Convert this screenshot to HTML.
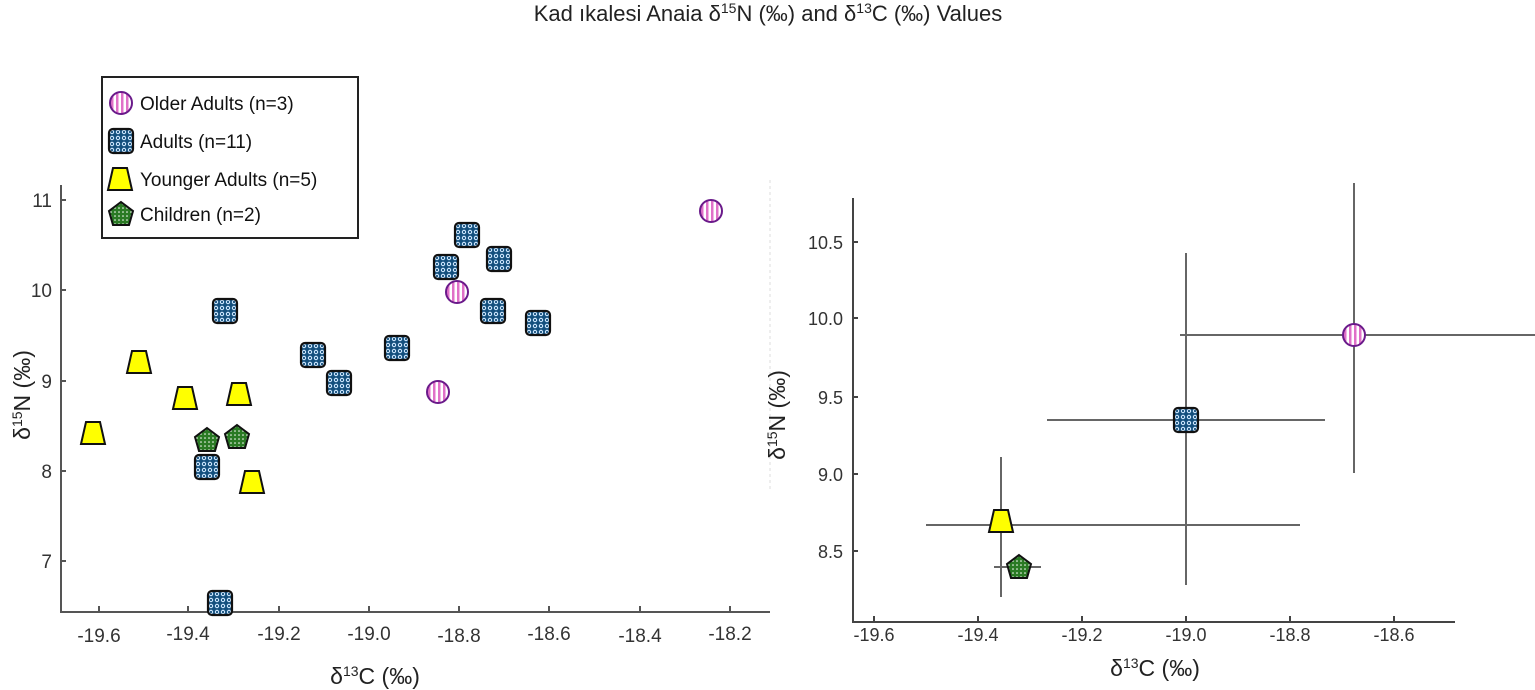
<!DOCTYPE html>
<html><head><meta charset="utf-8"><style>
html,body{margin:0;padding:0;background:#fff;}
svg{display:block;font-family:"Liberation Sans",sans-serif;}
</style></head><body>
<svg width="1535" height="690" viewBox="0 0 1535 690" xmlns="http://www.w3.org/2000/svg">
<defs>
<pattern id="str" width="5" height="5" patternUnits="userSpaceOnUse"><rect width="5" height="5" fill="#fff"/><rect width="2.5" height="5" fill="#e070c8"/></pattern>
<pattern id="blu" width="6" height="6" patternUnits="userSpaceOnUse"><rect width="6" height="6" fill="#14507e"/><circle cx="3" cy="3" r="2.2" fill="#cfe8ff"/><circle cx="3" cy="3" r="1.1" fill="#14507e"/></pattern>
<pattern id="grn" width="4" height="4" patternUnits="userSpaceOnUse"><rect width="4" height="4" fill="#2a7a24"/><circle cx="2" cy="2" r="0.8" fill="#fff"/></pattern>
<g id="mo"><circle r="11" fill="url(#str)" stroke="#6a1a8a" stroke-width="2"/></g>
<g id="ma"><rect x="-12" y="-12" width="24" height="24" rx="4" fill="url(#blu)" stroke="#111" stroke-width="2.2"/></g>
<g id="my"><polygon points="-7,-11 7,-11 12,11 -12,11" fill="#ffff00" stroke="#111" stroke-width="2"/></g>
<g id="mc"><polygon points="0,-12 12,-3 8,11 -8,11 -12,-3" fill="url(#grn)" stroke="#111" stroke-width="2"/></g>
</defs>
<text x="768" y="21" font-size="22" text-anchor="middle" fill="#222">Kad ıkalesi   Anaia  δ<tspan baseline-shift="super" font-size="14">15</tspan>N (‰) and  δ<tspan baseline-shift="super" font-size="14">13</tspan>C (‰) Values</text>

<!-- left plot -->
<g stroke="#555" stroke-width="2" fill="none">
<line x1="61" y1="185" x2="61" y2="613"/><line x1="60" y1="612" x2="770" y2="612"/>
<line x1="61" y1="200" x2="66" y2="200"/><line x1="61" y1="290" x2="66" y2="290"/><line x1="61" y1="381" x2="66" y2="381"/><line x1="61" y1="471" x2="66" y2="471"/><line x1="61" y1="561" x2="66" y2="561"/>
<line x1="99" y1="612" x2="99" y2="606"/><line x1="188" y1="612" x2="188" y2="606"/><line x1="279" y1="612" x2="279" y2="606"/><line x1="369" y1="612" x2="369" y2="606"/><line x1="459" y1="612" x2="459" y2="606"/><line x1="549" y1="612" x2="549" y2="606"/><line x1="640" y1="612" x2="640" y2="606"/><line x1="730" y1="612" x2="730" y2="606"/>
</g>
<line x1="770" y1="180" x2="770" y2="490" stroke="#ddd" stroke-dasharray="3,3"/>
<g font-size="19" fill="#333" text-anchor="end">
<text x="52" y="207">11</text><text x="52" y="297">10</text><text x="52" y="388">9</text><text x="52" y="478">8</text><text x="52" y="568">7</text>
</g>
<g font-size="19" fill="#333" text-anchor="middle">
<text x="99" y="642">-19.6</text><text x="188" y="640">-19.4</text><text x="279" y="640">-19.2</text><text x="369" y="640">-19.0</text><text x="459" y="642">-18.8</text><text x="549" y="640">-18.6</text><text x="640" y="642">-18.4</text><text x="730" y="640">-18.2</text>
</g>
<text x="375" y="684" font-size="23" text-anchor="middle" fill="#222">δ<tspan baseline-shift="super" font-size="14">13</tspan>C (‰)</text>
<text transform="translate(30,395) rotate(-90)" font-size="23" text-anchor="middle" fill="#222">δ<tspan baseline-shift="super" font-size="14">15</tspan>N (‰)</text>

<rect x="102" y="77" width="256" height="161" fill="#fff" stroke="#222" stroke-width="2"/>
<use href="#mo" x="121" y="103"/><text x="140" y="110" font-size="19" fill="#111">Older Adults (n=3)</text>
<use href="#ma" x="121" y="141"/><text x="140" y="148" font-size="19" fill="#111">Adults (n=11)</text>
<use href="#my" x="120" y="179"/><text x="140" y="186" font-size="19" fill="#111">Younger Adults (n=5)</text>
<use href="#mc" x="121" y="214"/><text x="140" y="221" font-size="19" fill="#111">Children (n=2)</text>

<use href="#mo" x="711" y="211"/><use href="#mo" x="457" y="292"/><use href="#mo" x="438" y="392"/>
<use href="#ma" x="467" y="235"/><use href="#ma" x="446" y="267"/><use href="#ma" x="499" y="259"/><use href="#ma" x="225" y="311"/><use href="#ma" x="493" y="311"/><use href="#ma" x="538" y="323"/><use href="#ma" x="313" y="355"/><use href="#ma" x="397" y="348"/><use href="#ma" x="339" y="383"/><use href="#ma" x="207" y="467"/><use href="#ma" x="220" y="603"/>
<use href="#my" x="139" y="362"/><use href="#my" x="93" y="433"/><use href="#my" x="185" y="398"/><use href="#my" x="239" y="394"/><use href="#my" x="252" y="482"/>
<use href="#mc" x="207" y="440"/><use href="#mc" x="237" y="437"/>

<!-- right plot -->
<g stroke="#444" stroke-width="2" fill="none">
<line x1="853" y1="198" x2="853" y2="623"/><line x1="852" y1="622" x2="1455" y2="622"/>
<line x1="853" y1="242" x2="858" y2="242"/><line x1="853" y1="318" x2="858" y2="318"/><line x1="853" y1="397" x2="858" y2="397"/><line x1="853" y1="474" x2="858" y2="474"/><line x1="853" y1="551" x2="858" y2="551"/>
<line x1="874" y1="622" x2="874" y2="616"/><line x1="978" y1="622" x2="978" y2="616"/><line x1="1082" y1="622" x2="1082" y2="616"/><line x1="1186" y1="622" x2="1186" y2="616"/><line x1="1290" y1="622" x2="1290" y2="616"/><line x1="1394" y1="622" x2="1394" y2="616"/>
</g>
<g font-size="18" fill="#333" text-anchor="end">
<text x="843" y="249">10.5</text><text x="843" y="325">10.0</text><text x="843" y="404">9.5</text><text x="843" y="481">9.0</text><text x="843" y="558">8.5</text>
</g>
<g font-size="18" fill="#333" text-anchor="middle">
<text x="874" y="641">-19.6</text><text x="978" y="641">-19.4</text><text x="1082" y="641">-19.2</text><text x="1186" y="641">-19.0</text><text x="1290" y="641">-18.8</text><text x="1394" y="641">-18.6</text>
</g>
<text x="1155" y="676" font-size="23" text-anchor="middle" fill="#222">δ<tspan baseline-shift="super" font-size="14">13</tspan>C (‰)</text>
<text transform="translate(785,415) rotate(-90)" font-size="23" text-anchor="middle" fill="#222">δ<tspan baseline-shift="super" font-size="14">15</tspan>N (‰)</text>
<g stroke="#666" stroke-width="2">
<line x1="1180" y1="335" x2="1535" y2="335"/><line x1="1354" y1="183" x2="1354" y2="473"/>
<line x1="1047" y1="420" x2="1325" y2="420"/><line x1="1186" y1="253" x2="1186" y2="585"/>
<line x1="926" y1="525" x2="1300" y2="525"/><line x1="1001" y1="457" x2="1001" y2="597"/>
<line x1="994" y1="567" x2="1041" y2="567"/>
</g>
<use href="#mo" x="1354" y="335"/><use href="#ma" x="1186" y="420"/><use href="#my" x="1001" y="521"/><use href="#mc" x="1019" y="567"/>
</svg>
</body></html>
